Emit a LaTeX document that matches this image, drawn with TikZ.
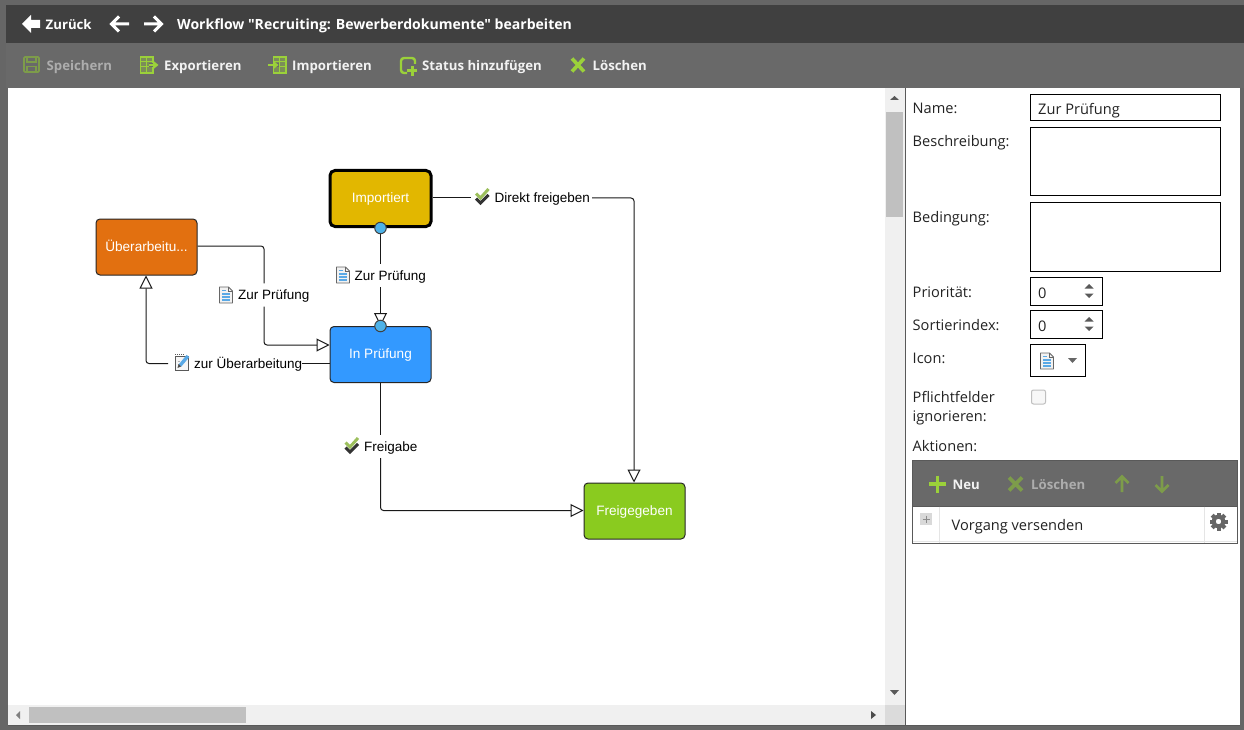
\documentclass[tikz,border=0pt]{standalone}
\usepackage{fontspec}
\setmainfont{Open Sans}
\newfontfamily\titlef{Open Sans}
\newfontfamily\arialf{Liberation Sans}
\usetikzlibrary{arrows.meta}
\definecolor{outerg}{HTML}{666666}
\definecolor{titleg}{HTML}{404040}
\definecolor{barg}{HTML}{696969}
\definecolor{scrollbg}{HTML}{F0F0F0}
\definecolor{thumbg}{HTML}{C0C0C0}
\definecolor{gold}{HTML}{E2B700}
\definecolor{bluebox}{HTML}{3399FF}
\definecolor{orangebox}{HTML}{E27010}
\definecolor{greenbox}{HTML}{8ACB1F}
\definecolor{lime}{HTML}{9BD13A}
\definecolor{dimlime}{HTML}{7D9C4A}
\definecolor{checkg}{HTML}{9CBF5C}
\definecolor{dotblue}{HTML}{4DB2E8}
\definecolor{txt}{HTML}{222222}
\definecolor{docline}{HTML}{5AA9E6}
\tikzset{
  x=1pt,y=-1pt,
  statebox/.style={draw=black!85,line width=1pt,rounded corners=4pt,text=white,font=\arialf\fontsize{13.6}{15}\selectfont,inner sep=0pt,anchor=north west,text height=10.5pt,text depth=2.5pt},
  flowlabel/.style={inner sep=0pt,anchor=west,text=black,font=\arialf\fontsize{13.5}{16}\selectfont,text height=11pt,text depth=2pt},
  edge/.style={draw=black!90,line width=1pt,rounded corners=3pt},
  tipped/.style={edge,-{Triangle[open,fill=white,length=13pt,width=13pt,line width=1pt]}},
  dot/.style={circle,draw=black!75,fill=dotblue,line width=1pt,minimum size=11.5pt,inner sep=0pt},
  headtxt/.style={inner sep=0pt,anchor=base west,text=white,font=\fontsize{14.05}{16}\selectfont\bfseries},
  tooltxt/.style={inner sep=0pt,anchor=base west,text=white!95!black,font=\fontsize{13.2}{16}\selectfont\bfseries},
  dimtxt/.style={inner sep=0pt,anchor=base west,text=black!32,font=\fontsize{13.2}{16}\selectfont\bfseries},
  formtxt/.style={inner sep=0pt,anchor=base west,text=txt,font=\fontsize{14.6}{16}\selectfont},
  field/.style={draw=black,line width=1pt,fill=white},
}
\newcommand{\icondoc}[2]{\begin{scope}[shift={(#1,#2)}]
  \draw[black!60,fill=black!5,line width=.9pt,line join=round] (-6.5,-8)--(2.5,-8)--(6.5,-4)--(6.5,8)--(-6.5,8)--cycle;
  \draw[black!60,line width=.8pt] (2.5,-8)--(2.5,-4)--(6.5,-4);
  \draw[docline,line width=1.3pt] (-4,-4.5)--(0,-4.5) (-4,-1)--(4,-1) (-4,2)--(4,2) (-4,5)--(4,5);
\end{scope}}
\newcommand{\iconcheck}[2]{\begin{scope}[shift={(#1,#2)}]
  \draw[black!80,line width=3pt] (-6.5,1.5)--(-2,6)--(6,-2);
  \draw[checkg,line width=3pt] (-6.5,-3.5)--(-2,1)--(6,-8);
\end{scope}}
\newcommand{\iconnote}[2]{\begin{scope}[shift={(#1,#2)}]
  \draw[black!65,fill=black!4,line width=1pt] (-7,-5.5)rectangle(6,8);
  \draw[black!65,line width=1.2pt,dash pattern=on 1pt off 1pt] (-7,-7.5)--(3,-7.5);
  \draw[black!30,line width=1pt] (-4.5,-1)--(-2,-1) (-4.5,2)--(-3,2);
  \draw[docline,line width=3.4pt] (-2,3.5)--(6,-6);
  \fill[black!70] (-4.5,6)--(-3.4,2)--(-.8,4.4)--cycle;
\end{scope}}
\newcommand{\icontable}[3]{\begin{scope}[shift={(#1,#2)}]
  \draw[#3,line width=1.2pt,fill=#3!35!barg] (-6.5,-8)rectangle(6,8);
  \draw[#3,line width=1pt] (-6.5,-3)--(6,-3) (-6.5,2)--(6,2) (-.5,-8)--(-.5,8);
\end{scope}}
\newcommand{\iconspin}[2]{\begin{scope}[shift={(#1,#2)}]
  \fill[black!65] (-4.5,-2.5)--(0,-7)--(4.5,-2.5)--cycle (-4.5,2.5)--(0,7)--(4.5,2.5)--cycle;
\end{scope}}
\begin{document}
\begin{tikzpicture}
\useasboundingbox (0,0) rectangle (1244,730);
% window
\fill[outerg] (0,0) rectangle (1244,730);
\fill[titleg] (6,5) rectangle (1244,43);
\fill[barg] (6,43) rectangle (1244,88);
\fill[white] (8,88) rectangle (1240,725);
\fill[black!65] (8,725) rectangle (1240,726);
% header
\fill[white] (22,24)--(31,15)--(31,20)--(40,20)--(40,28)--(31,28)--(31,33)--cycle;
\node[headtxt,font=\fontsize{13.2}{16}\selectfont\bfseries] (zurueck) at (45.5,29.5) {Zurück};
\draw[white,line width=3pt,line join=miter] (129,24)--(113,24) (119,16.5)--(111.5,24)--(119,31.5);
\draw[white,line width=3pt,line join=miter] (144,24)--(160,24) (154,16.5)--(161.5,24)--(154,31.5);
\node[headtxt,font=\titlef\fontsize{14.05}{16}\selectfont\bfseries] (titel) at (177,29.5) {Workflow "Recruiting: Bewerberdokumente" bearbeiten};
% toolbar
\draw[dimlime,line width=1.6pt,rounded corners=1pt] (24,57) rectangle (39,72);
\draw[dimlime,line width=1.2pt] (27,57) rectangle (36,62) (27,66.5) rectangle (36,72);
\node[dimtxt] (speichern) at (46.5,70.5) {Speichern};
\icontable{147}{65}{lime}
\draw[barg,line width=4.5pt] (149,65)--(155,65);
\draw[lime,line width=2pt] (149,65)--(156,65);
\fill[lime] (153,60.5)--(158.5,65)--(153,69.5)--cycle;
\node[tooltxt] (exportieren) at (164,70.5) {Exportieren};
\icontable{280}{65}{lime}
\draw[barg,line width=4.5pt] (272,65)--(279,65);
\draw[lime,line width=2pt] (268,65)--(275,65);
\fill[lime] (273,60.5)--(278.5,65)--(273,69.5)--cycle;
\node[tooltxt] (importieren) at (292,70.5) {Importieren};
\draw[lime,line width=2.4pt,rounded corners=3pt] (407,73)--(401,73)--(401,58)--(415,58)--(415,64);
\draw[lime,line width=3pt] (412,66)--(412,76) (407,71)--(417,71);
\node[tooltxt] (status) at (422,70.5) {Status hinzufügen};
\draw[lime,line width=3.6pt] (572,58.5)--(584,71.5) (584,58.5)--(572,71.5);
\node[tooltxt] (loeschen) at (592.5,70.5) {Löschen};
% scrollbars
\fill[scrollbg] (885,88) rectangle (905,725);
\fill[scrollbg] (8,705) rectangle (885,725);
\fill[black!14] (885,705) rectangle (905,725);
\fill[thumbg] (886,112) rectangle (903,217);
\fill[thumbg] (29,707) rectangle (246,723);
\fill[black!65] (890,100)--(894.5,96)--(899,100)--cycle;
\fill[black!65] (890,690)--(894.5,695)--(899,690)--cycle;
\fill[black!50] (20,711)--(16,715)--(20,719)--cycle;
\fill[black!70] (871,711)--(876,715)--(871,719)--cycle;
\fill[black!65] (905,88) rectangle (906,725);
% states
\node[statebox,draw=black,line width=3pt,rounded corners=5pt,fill=gold,minimum width=101pt,minimum height=56pt] (imp) at (328.5,169) {Importiert};
\node[statebox,fill=bluebox,minimum width=101pt,minimum height=56pt] (pruef) at (329.5,326) {In Prüfung};
\node[statebox,fill=orangebox,minimum width=101pt,minimum height=56pt] (ueber) at (95.5,218.5) {Überarbeitu...};
\node[statebox,fill=greenbox,minimum width=101pt,minimum height=56pt] (frei) at (583.5,482.5) {Freigegeben};
% flow labels
\node[flowlabel,minimum height=23pt] (lzur) at (354.5,275.5) {Zur Prüfung};
\icondoc{343}{275}
\node[flowlabel,minimum height=23pt] (lrueck) at (238,295) {Zur Prüfung};
\icondoc{226}{295}
\node[flowlabel] (lueber) at (194,363.5) {zur Überarbeitung};
\iconnote{182}{362}
\node[flowlabel] (ldirekt) at (494.5,198.5) {Direkt freigeben};
\iconcheck{482.5}{197}
\node[flowlabel,minimum height=23pt] (lfrei) at (364,446.5) {Freigabe};
\iconcheck{352}{446}
% helper corners
\coordinate (c1) at (634,198);
\coordinate (c2) at (380.5,510.5);
\coordinate (c3) at (146,363.5);
\coordinate (c4) at (264,246);
\coordinate (c5) at (264,345);
\coordinate (c6) at (471,198);
\coordinate (c7) at (168,363.5);
% connectors
\draw[edge] (imp.south) -- (imp.south |- lzur.north);
\draw[tipped] (imp.south |- lzur.south) -- (pruef.north);
\draw[edge] (imp.east |- c6) -- (c6);
\draw[tipped] (ldirekt.east |- c1) ++(2,0) -- (c1) -- (frei.north -| c1);
\draw[edge] (pruef.south) -- (pruef.south |- lfrei.north);
\draw[tipped] (pruef.south |- lfrei.south) -- (c2) -- (frei.west |- c2);
\draw[edge] (pruef.west |- c3) -- (lueber.east |- c3);
\draw[tipped] (c7) -- (c3) -- (ueber.south -| c3);
\draw[edge] (ueber.east |- c4) -- (c4) -- (c4 |- lrueck.north);
\draw[tipped] (c4 |- lrueck.south) -- (c5) -- (pruef.west |- c5);
\node[dot] (dotoben) at (imp.south) {};
\node[dot] (dotunten) at (pruef.north) {};
% right panel
\node[formtxt] (fname) at (912.5,113.7) {Name:};
\node[formtxt] (fbes) at (912.5,146.7) {Beschreibung:};
\node[formtxt] (fbed) at (912.5,222.5) {Bedingung:};
\node[formtxt] (fprio) at (912.5,297) {Priorität:};
\node[formtxt] (fsort) at (912.5,330) {Sortierindex:};
\node[formtxt] (ficon) at (912.5,363) {Icon:};
\node[formtxt] (fpfl) at (912.5,402) {Pflichtfelder};
\node[formtxt] (fign) at (912.5,421) {ignorieren:};
\node[formtxt] (fakt) at (912.5,451) {Aktionen:};
\draw[field] (1030.5,94.5) rectangle (1220.5,120.5);
\node[formtxt] (vname) at (1038,114.7) {Zur Prüfung};
\draw[field] (1030.5,127.5) rectangle (1220.5,195.5);
\draw[field] (1030.5,202.5) rectangle (1220.5,271.5);
\draw[field] (1030.5,277.5) rectangle (1102.5,305.5);
\node[formtxt] (vprio) at (1038,298) {0};
\iconspin{1089}{291}
\draw[field] (1030.5,310.5) rectangle (1102.5,338.5);
\node[formtxt] (vsort) at (1038,331) {0};
\iconspin{1089}{324}
\draw[field] (1030.5,344.5) rectangle (1085.5,376.5);
\icondoc{1047}{361}
\fill[black!60] (1068,358)--(1077,358)--(1072.5,363)--cycle;
\draw[black!25,fill=black!3,line width=1pt,rounded corners=2pt] (1031.5,390) rectangle (1045.5,404);
% actions
\fill[barg] (912,460) rectangle (1238,506);
\draw[black!65,fill=white,line width=1pt] (912.5,506) rectangle (1237.5,543.5);
\draw[black!65,line width=1pt] (912.5,460.5) rectangle (1237.5,543.5);
\draw[lime,line width=3.6pt] (929,484)--(946,484) (937.5,475.5)--(937.5,492.5);
\node[tooltxt] (aneu) at (952.5,489) {Neu};
\draw[dimlime,line width=3.6pt] (1009,477.5)--(1022,490.5) (1022,477.5)--(1009,490.5);
\node[dimtxt] (aloesch) at (1031,489) {Löschen};
\draw[dimlime,line width=2.6pt] (1122,492)--(1122,477) (1115.5,483)--(1122,476.5)--(1128.5,483);
\draw[dimlime,line width=2.6pt] (1162,476)--(1162,491) (1155.5,485)--(1162,491.5)--(1168.5,485);
\draw[black!10,line width=1pt] (939.5,506.5)--(939.5,543) (1204.5,506.5)--(1204.5,543) (913,541.5)--(1237,541.5);
\fill[black!15] (920,513) rectangle (932,525);
\draw[black!45,line width=1pt] (922.5,519)--(929.5,519) (926,515.5)--(926,522.5);
\node[formtxt] (vvorg) at (951.5,530) {Vorgang versenden};
\begin{scope}[shift={(1218.5,521.5)}]
  \foreach \a in {0,45,...,315}{\fill[black!60,rotate=\a] (-2,-9)rectangle(2,-5);}
  \fill[black!60,even odd rule] (0,0) circle (6.8pt) (0,0) circle (2.8pt);
\end{scope}
\end{tikzpicture}
\end{document}
